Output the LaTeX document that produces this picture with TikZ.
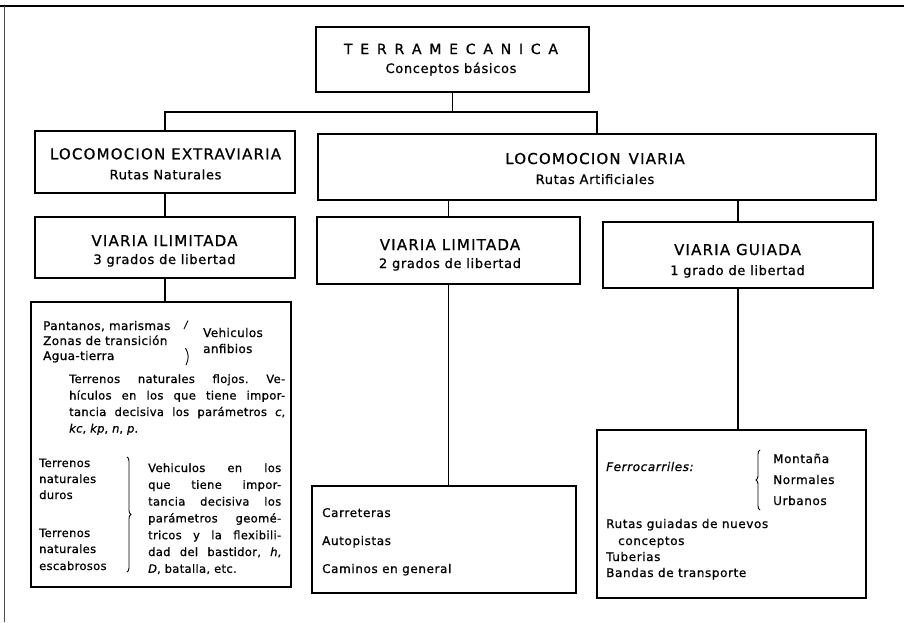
\documentclass[tikz,border=0pt]{standalone}
\usepackage{fontspec}
\setmainfont{DejaVu Sans}
\newfontfamily\hdfam{DejaVu Sans}[LetterSpace=8, FakeBold=0.8]
\newfontfamily\sdfam{DejaVu Sans}[LetterSpace=5, FakeBold=0.8]
\newfontfamily\bdfam{DejaVu Sans}[LetterSpace=3, FakeBold=0.8]
\usetikzlibrary{decorations.pathreplacing}
\frenchspacing
\begin{document}
\frenchspacing
\begin{tikzpicture}[x=1pt,y=-1pt,
  box/.style={draw, line width=1.4pt, inner sep=0pt, fill=none},
  link/.style={line width=1.4pt},
  frameline/.style={line width=1.6pt},
  hdtxt/.style={inner sep=0pt, anchor=base, font=\hdfam\fontsize{15}{18}\selectfont},
  sdtxt/.style={inner sep=0pt, anchor=base, font=\sdfam\fontsize{13}{16}\selectfont},
  bltxt/.style={inner sep=0pt, anchor=base west, font=\bdfam\fontsize{11.5}{14}\selectfont},
  brtxt/.style={inner sep=0pt, anchor=base west, font=\sdfam\fontsize{12}{14}\selectfont},
  bracepath/.style={line width=0.9pt, decorate, decoration={brace, amplitude=4pt}}
]
\useasboundingbox (0,0) rectangle (904,622);
% frame
\draw[frameline] (0,6) -- (904,6);
\draw[frameline, black!70] (4.5,6) -- (4.5,622);

% boxes
\node[box, minimum width=273pt, minimum height=65pt] (top) at (452.5,59.5) {};
\node[box, minimum width=260pt, minimum height=62pt] (lex) at (165,162) {};
\node[box, minimum width=558pt, minimum height=66pt] (lv) at (597,167) {};
\node[box, minimum width=260pt, minimum height=61pt] (vil) at (165,247.5) {};
\node[box, minimum width=263pt, minimum height=67pt] (vl) at (448.5,250.5) {};
\node[box, minimum width=270pt, minimum height=66pt] (vg) at (738,255) {};
\node[box, minimum width=260pt, minimum height=285pt] (bigL) at (161,444.5) {};
\node[box, minimum width=264pt, minimum height=107pt] (carr) at (444,539.5) {};
\node[box, minimum width=269pt, minimum height=168pt] (ferro) at (731.5,514) {};

% connectors
\coordinate (j1) at (452.5,112);
\draw[link] (top.south) -- (j1);
\draw[link] (lex.north) |- (j1) -| (lv.north);
\draw[link] (lex.south) -- (vil.north);
\draw[link] (lv.south -| vl.north) -- (vl.north);
\draw[link] (lv.south -| vg.north) -- (vg.north);
\draw[link] (vil.south) -- (vil.south |- bigL.north);
\draw[link] (vl.south) -- (vl.south |- carr.north);
\draw[link] (vg.south) -- (vg.south |- ferro.north);

% header texts
\node[hdtxt, font=\hdfam\fontsize{14}{18}\selectfont] (t1) at (451,54) {\makebox[214pt][s]{T E R R A M E C A N I C A}};
\node[sdtxt] (t2) at (451,73) {Conceptos básicos};
\node[hdtxt] (lex1) at (165.5,159.3) {LOCOMOCION EXTRAVIARIA};
\node[sdtxt] (lex2) at (165.5,179.3) {Rutas Naturales};
\node[hdtxt] (lv1) at (595,164) {LOCOMOCION\hspace{8pt}VIARIA};
\node[sdtxt] (lv2) at (595,184) {Rutas Artificiales};
\node[hdtxt] (vil1) at (164.5,246) {VIARIA ILIMITADA};
\node[sdtxt] (vil2) at (164.5,264) {3 grados de libertad};
\node[hdtxt] (vl1) at (450,250) {VIARIA LIMITADA};
\node[sdtxt] (vl2) at (450,268) {2 grados de libertad};
\node[hdtxt] (vg1) at (737.5,255) {VIARIA GUIADA};
\node[sdtxt] (vg2) at (737.5,275) {1 grado de libertad};

% big left box contents
\node[bltxt, font=\bdfam\fontsize{12}{14}\selectfont] (p1) at (43,330) {Pantanos, marismas};
\node[bltxt, font=\bdfam\fontsize{12}{14}\selectfont] (p2) at (43,345) {Zonas de transición};
\node[bltxt, font=\bdfam\fontsize{12}{14}\selectfont] (p3) at (43,360) {Agua-tierra};
\draw[line width=0.9pt] (184,329) -- (188,320.5);
\draw[line width=0.9pt] (185.5,348) .. controls (189,354) and (189,359) .. (186,365);
\node[bltxt, font=\bdfam\fontsize{12}{14}\selectfont] (va1) at (203,337) {Vehiculos};
\node[bltxt, font=\bdfam\fontsize{12}{14}\selectfont] (va2) at (203,353) {anfibios};

\node[bltxt] (q1) at (69,383) {\makebox[216pt][s]{Terrenos naturales flojos. Ve-}};
\node[bltxt] (q2) at (69,399.5) {\makebox[216pt][s]{hículos en los que tiene impor-}};
\node[bltxt] (q3) at (69,416) {\makebox[216pt][s]{tancia decisiva los parámetros \textit{c},}};
\node[bltxt] (q4) at (69,432.5) {\textit{kc}, \textit{kp}, \textit{n}, \textit{p}.};

\node[bltxt] (d1) at (39,467) {Terrenos};
\node[bltxt] (d2) at (39,483) {naturales};
\node[bltxt] (d3) at (39,499) {duros};
\node[bltxt] (e1) at (39,537) {Terrenos};
\node[bltxt] (e2) at (39,553) {naturales};
\node[bltxt] (e3) at (39,570) {escabrosos};
\draw[bracepath] (127,457) -- (127,572);

\node[bltxt] (r1) at (148,472) {\makebox[133pt][s]{Vehiculos en los}};
\node[bltxt] (r2) at (148,488.8) {\makebox[133pt][s]{que tiene impor-}};
\node[bltxt] (r3) at (148,505.6) {\makebox[133pt][s]{tancia decisiva los}};
\node[bltxt] (r4) at (148,522.4) {\makebox[133pt][s]{parámetros geomé-}};
\node[bltxt] (r5) at (148,539.2) {\makebox[133pt][s]{tricos y la flexibili-}};
\node[bltxt] (r6) at (148,556) {\makebox[133pt][s]{dad del bastidor, \textit{h},}};
\node[bltxt] (r7) at (148,572.8) {\textit{D}, batalla, etc.};

% carreteras box
\node[brtxt] (c1) at (322,517) {Carreteras};
\node[brtxt] (c2) at (322,545) {Autopistas};
\node[brtxt] (c3) at (322,573) {Caminos en general};

% ferro box
\node[brtxt] (f0) at (606,471) {\textit{Ferrocarriles:}};
\draw[bracepath] (760,510) -- (760,450);
\node[brtxt] (f1) at (773,463) {Montaña};
\node[brtxt] (f2) at (773,484) {Normales};
\node[brtxt] (f3) at (773,505) {Urbanos};
\node[brtxt] (g1) at (606,528) {Rutas guiadas de nuevos};
\node[brtxt] (g2) at (618,545) {conceptos};
\node[brtxt] (g3) at (606,561) {Tuberias};
\node[brtxt] (g4) at (606,577) {Bandas de transporte};
\end{tikzpicture}
\end{document}
